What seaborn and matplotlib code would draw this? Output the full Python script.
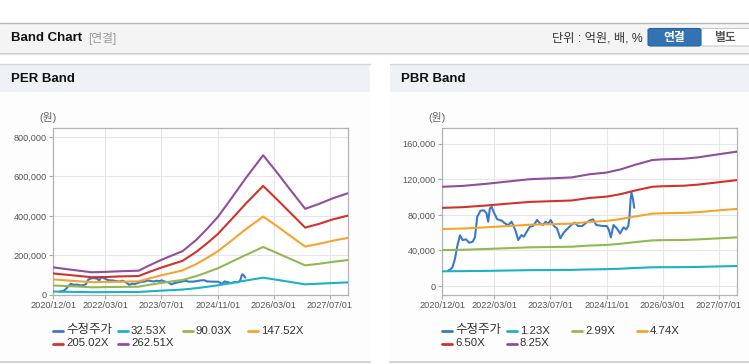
"""PER / PBR band chart."""

import pandas as pd
import seaborn as sns
import matplotlib.pyplot as plt
import matplotlib.dates as mdates
from matplotlib.patches import Rectangle, FancyBboxPatch
from matplotlib.lines import Line2D
from matplotlib.ticker import FuncFormatter

W, H = 749, 364

# 수정주가 (천원)
price_dates = [
    '2021-01-25', '2021-02-15', '2021-03-04', '2021-03-24', '2021-04-13', '2021-05-06',
    '2021-05-29', '2021-06-27', '2021-07-26', '2021-08-24', '2021-09-13', '2021-10-03',
    '2021-11-01', '2021-11-30', '2021-12-23', '2022-01-06', '2022-01-21', '2022-02-05',
    '2022-02-25', '2022-03-26', '2022-05-03', '2022-05-31', '2022-06-29', '2022-07-28',
    '2022-08-11', '2022-09-04', '2022-09-24', '2022-10-23', '2022-11-12', '2022-12-11',
    '2023-01-03', '2023-02-01', '2023-03-07', '2023-03-30', '2023-04-27', '2023-05-21',
    '2023-06-10', '2023-07-03', '2023-08-01', '2023-08-27', '2023-09-25', '2023-10-24',
    '2023-11-21', '2023-12-29', '2024-01-27', '2024-02-25', '2024-04-03', '2024-05-07',
    '2024-06-05', '2024-07-04', '2024-08-02', '2024-09-29', '2024-11-02', '2024-11-20',
    '2024-12-07', '2024-12-30', '2025-01-28', '2025-02-26', '2025-03-27', '2025-04-19',
    '2025-05-07', '2025-05-18', '2025-05-27', '2025-06-04', '2025-06-16', '2025-06-28',
]
price_k = [
    17.5, 19.0, 21.7, 31.0, 45.0, 57.0,
    51.7, 52.5, 48.7, 49.8, 54.7, 78.0,
    84.7, 85.0, 81.7, 72.3, 87.3, 89.0,
    82.5, 75.0, 73.5, 70.5, 68.3, 72.3,
    68.7, 61.0, 51.7, 57.3, 55.5, 61.8,
    66.7, 67.5, 74.2, 70.5, 68.7, 72.3,
    69.7, 74.2, 67.5, 64.8, 53.6, 60.0,
    63.7, 68.7, 71.2, 67.5, 67.5, 71.2,
    73.5, 75.0, 68.6, 67.4, 67.4, 63.0,
    54.7, 68.6, 64.8, 59.2, 65.9, 63.7,
    67.4, 78.0, 96.7, 105.0, 98.6, 88.0,
]

# PER band (천원)
per_dates = [
    '2020-12-01', '2021-03-01', '2021-07-01', '2021-11-01', '2022-03-01', '2022-07-01',
    '2022-12-15', '2023-03-01', '2023-07-01', '2023-10-01', '2024-01-01', '2024-05-01',
    '2024-08-01', '2024-11-01', '2025-03-01', '2025-07-01', '2025-12-01', '2026-04-01',
    '2026-08-01', '2026-12-01', '2027-04-01', '2027-08-01', '2027-12-08',
]
per_3253 = [17.3, 16.5, 15.4, 14.2, 14.5, 14.9, 15.2, 18.0, 22.1, 24.8, 27.5, 34.7,
            41.5, 48.8, 60.7, 73.1, 87.6, 76.7, 65.3, 54.0, 57.1, 60.7, 63.8]
per_9003 = [48, 46, 43, 39, 40, 41, 42, 50, 61, 69, 76, 96,
            115, 135, 168, 202, 243, 212, 181, 150, 158, 168, 177]
per_14752 = [79, 75, 70, 65, 66, 67, 69, 81, 100, 112, 125, 157,
             188, 221, 275, 332, 397, 348, 296, 245, 259, 275, 289]
per_20502 = [109, 104, 97, 90, 91, 94, 96, 113, 139, 156, 173, 219,
             262, 308, 383, 461, 552, 483, 412, 341, 360, 383, 402]
per_26251 = [140, 133, 124, 115, 117, 120, 123, 145, 178, 200, 222, 280,
             335, 394, 490, 590, 707, 619, 527, 436, 461, 490, 515]
per_labels = ['32.53X', '90.03X', '147.52X', '205.02X', '262.51X']

# PBR band (천원)
pbr_dates = [
    '2020-12-01', '2021-06-01', '2022-01-01', '2022-07-01', '2023-01-01', '2023-07-01',
    '2024-01-01', '2024-06-01', '2024-11-01', '2025-03-01', '2025-07-01', '2025-12-01',
    '2026-03-01', '2026-09-01', '2027-01-01', '2027-07-01', '2027-12-08',
]
pbr_123 = [16.6, 16.8, 17.1, 17.5, 17.9, 18.0, 18.2, 18.7, 19.0, 19.5, 20.3, 21.1,
           21.2, 21.3, 21.5, 22.1, 22.5]
pbr_299 = [40.4, 40.8, 41.7, 42.6, 43.5, 43.9, 44.2, 45.5, 46.2, 47.5, 49.3, 51.3,
           51.6, 51.8, 52.4, 53.6, 54.7]
pbr_474 = [64.1, 64.6, 66.1, 67.5, 68.9, 69.5, 70.1, 72.1, 73.2, 75.3, 78.1, 81.3,
           81.8, 82.2, 83.0, 85.0, 86.7]
pbr_650 = [87.8, 88.6, 90.6, 92.6, 94.5, 95.3, 96.1, 98.9, 100.5, 103.2, 107.2, 111.5,
           112.1, 112.7, 113.9, 116.6, 119.0]
pbr_825 = [111.5, 112.5, 115.0, 117.5, 120.0, 121.0, 122.0, 125.5, 127.5, 131.0, 136.0, 141.5,
           142.3, 143.0, 144.5, 148.0, 151.0]
pbr_labels = ['1.23X', '2.99X', '4.74X', '6.50X', '8.25X']

x_ticks = ['2020-12-01', '2022-03-01', '2023-07-01', '2024-11-01', '2026-03-01', '2027-07-01']
x_range = ('2020-12-01', '2027-12-08')

price_color = '#3a78c8'
band_colors = ['#1cb2c6', '#91b952', '#f5a52f', '#d1322b', '#904f9d']


def band_frame(dates, series, labels):
    parts = []
    for vals, lab in zip(series, labels):
        parts.append(pd.DataFrame({'date': pd.to_datetime(dates),
                                   'value': [v * 1000 for v in vals],
                                   'band': lab}))
    return pd.concat(parts, ignore_index=True)


sns.set_theme(style='whitegrid')
plt.rcParams['font.family'] = ['Liberation Sans', 'Noto Sans CJK KR']

fig = plt.figure(figsize=(W / 100, H / 100), dpi=100)
fig.patch.set_facecolor('white')


def rect(x, y, w, h, **kw):
    fig.patches.append(Rectangle((x / W, 1 - (y + h) / H), w / W, h / H,
                                 transform=fig.transFigure, zorder=-5, **kw))


def hline(x0, x1, y, color, lw=1.0):
    fig.add_artist(Line2D([x0 / W, x1 / W], [1 - y / H, 1 - y / H],
                          transform=fig.transFigure, color=color, lw=lw, zorder=-4))


def text(x, y, s, **kw):
    fig.text(x / W, 1 - y / H, s, va='center', **kw)


# page header
hline(0, W, 22.5, '#b9b9b9')
rect(0, 23, W, 29, facecolor='#f4f4f4', edgecolor='none')
hline(0, W, 52.5, '#c6c6c6')
hline(0, W, 53.5, '#e4e4e4')
text(11, 38, 'Band Chart', fontsize=9.5, fontweight='bold', color='#111111')
text(88, 38.5, '[연결]', fontsize=8.5, color='#9a9a9a')
text(643, 38.5, '단위 : 억원, 배, %', fontsize=8.8, color='#333333', ha='right')
fig.patches.append(FancyBboxPatch((700 / W, 1 - 46 / H), 52 / W, 17.5 / H,
                                  boxstyle='round,pad=0,rounding_size=0.004',
                                  transform=fig.transFigure, zorder=-3,
                                  facecolor='white', edgecolor='#c9c9c9', lw=0.8))
fig.patches.append(FancyBboxPatch((648 / W, 1 - 46 / H), 53 / W, 17.5 / H,
                                  boxstyle='round,pad=0,rounding_size=0.004',
                                  transform=fig.transFigure, zorder=-3,
                                  facecolor='#3373b3', edgecolor='#2a62a0', lw=0.8))
text(674, 37.5, '연결', fontsize=8.5, fontweight='bold', color='white', ha='center')
text(725, 37.5, '별도', fontsize=8.5, fontweight='bold', color='#555555', ha='center')

# panel frames
for px0, px1, title in [(0, 370, 'PER Band'), (390, W, 'PBR Band')]:
    hline(px0, px1, 63.5, '#d6d6d6')
    rect(px0, 64, px1 - px0, 28, facecolor='#eef1f6', edgecolor='none')
    rect(px0, 92, px1 - px0, 269, facecolor='#fdfdfd', edgecolor='none')
    hline(px0, px1, 361.5, '#d4d4d4', lw=1.5)
    text(px0 + 11, 79, title, fontsize=9.5, fontweight='bold', color='#111111')

price_df = pd.DataFrame({'date': pd.to_datetime(price_dates),
                         'value': [v * 1000 for v in price_k]})

panels = [
    (53, band_frame(per_dates, [per_3253, per_9003, per_14752, per_20502, per_26251], per_labels),
     per_labels, (0, 845000), range(0, 800001, 200000)),
    (442, band_frame(pbr_dates, [pbr_123, pbr_299, pbr_474, pbr_650, pbr_825], pbr_labels),
     pbr_labels, (-10000, 177500), range(0, 160001, 40000)),
]

for left, bands, labels, ylim, yticks in panels:
    ax = fig.add_axes([left / W, (H - 295) / H, 295 / W, 167 / H])
    ax.set_zorder(2)
    ax.set_facecolor('white')
    sns.lineplot(data=price_df, x='date', y='value', color=price_color,
                 lw=1.5, ax=ax, zorder=2)
    sns.lineplot(data=bands, x='date', y='value', hue='band', hue_order=labels,
                 palette=dict(zip(labels, band_colors)), lw=1.5, ax=ax,
                 legend=False, zorder=3)
    ax.set_xlim(pd.to_datetime(x_range[0]), pd.to_datetime(x_range[1]))
    ax.set_ylim(*ylim)
    ax.set_xticks(pd.to_datetime(x_ticks))
    ax.xaxis.set_major_formatter(mdates.DateFormatter('%Y/%m/%d'))
    ax.set_yticks(list(yticks))
    ax.yaxis.set_major_formatter(FuncFormatter(lambda v, p: f'{v:,.0f}'))
    ax.set_xlabel('')
    ax.set_ylabel('')
    ax.grid(True, color='#e6e6e6', lw=0.8)
    for sp in ax.spines.values():
        sp.set_color('#b3b3b3')
        sp.set_linewidth(0.9)
    ax.tick_params(axis='both', which='major', bottom=True, left=True,
                   direction='out', length=3, width=0.8, color='#aaaaaa',
                   labelsize=6.6, labelcolor='#555555', pad=1.5)

    text(left - 5, 118, '(원)', fontsize=7.8, color='#666666', ha='center')

    # legend, 4 fixed-width columns
    names = ['수정주가'] + labels
    colors = [price_color] + band_colors
    for i, (name, col) in enumerate(zip(names, colors)):
        lx = left + (i % 4) * 65
        ly = 330.5 + (i // 4) * 13
        fig.add_artist(Line2D([lx / W, (lx + 10) / W], [1 - ly / H, 1 - ly / H],
                              transform=fig.transFigure, color=col, lw=2))
        text(lx + 13, ly, name, fontsize=9 if i == 0 else 8.2, color='#333333')

fig.savefig('out.png', dpi=100)
